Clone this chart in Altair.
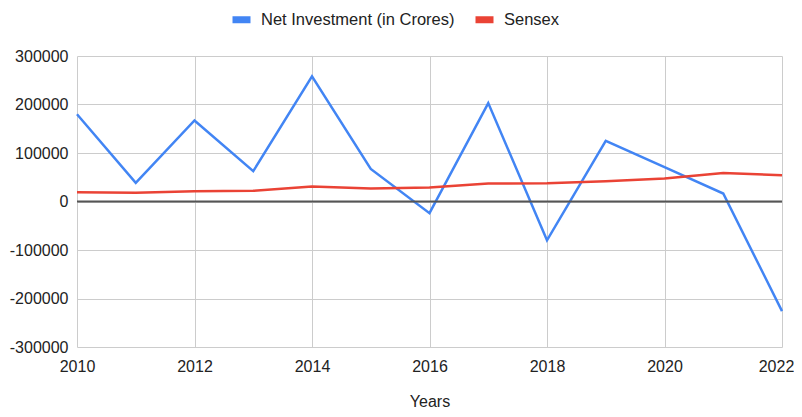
import altair as alt
import pandas as pd

years = list(range(2010, 2023))
net_investment = [180000, 38500, 167000, 62500, 258000, 67000, -24000, 203000, -80000, 125000, 71000, 16500, -226000]
sensex = [19200, 17900, 21000, 22000, 31000, 26800, 29000, 37000, 37800, 42000, 47500, 59000, 54300]
series_names = ["Net Investment (in Crores)", "Sensex"]
series_colors = ["#4285F4", "#EA4335"]
x_ticks = [2010, 2012, 2014, 2016, 2018, 2020, 2022]
y_ticks = [-300000, -200000, -100000, 0, 100000, 200000, 300000]

rows = []
for y, a, b in zip(years, net_investment, sensex):
    rows.append({"Year": y, "Series": series_names[0], "Value": a})
    rows.append({"Year": y, "Series": series_names[1], "Value": b})
df = pd.DataFrame(rows)

FONT = "Liberation Sans"

y_scale = alt.Scale(domain=[-300000, 300000], nice=False)
y_axis = alt.Axis(values=y_ticks, title=None, labelPadding=9, ticks=False,
                  labelExpr="datum.value < 0 ? '-' + format(-datum.value, 'd') : format(datum.value, 'd')",
                  domain=False, gridColor="#cccccc", labelFontSize=16, labelColor="#222222",
                  labelFont=FONT)

x_enc = alt.X(
    "Year:Q",
    scale=alt.Scale(domain=[2010, 2022], nice=False, zero=False),
    axis=alt.Axis(values=x_ticks, format="d", title="Years", labelPadding=11,
                  titlePadding=19, ticks=False, domain=False, gridColor="#cccccc",
                  labelFontSize=16, titleFontSize=16, titleFontWeight="normal",
                  labelColor="#222222", titleColor="#222222", labelFont=FONT, titleFont=FONT,
                  labelFlush=False,
                  labelOffset={"condition": {"test": "datum.value == 2022", "value": -6}, "value": 0}),
)

lines = alt.Chart(df).mark_line(strokeWidth=2.5).encode(
    x=x_enc,
    y=alt.Y("Value:Q", scale=y_scale, axis=y_axis),
    color=alt.Color(
        "Series:N",
        scale=alt.Scale(domain=series_names, range=series_colors),
        legend=alt.Legend(
            title=None, orient="none", direction="horizontal", legendX=152, legendY=-49,
            symbolType="stroke", symbolSize=324, symbolStrokeWidth=7, labelFontSize=16.5,
            labelFont=FONT, labelColor="#222222", labelOffset=7, columnPadding=6, padding=0,
            labelLimit=0,
        ),
    ),
)

zero = alt.Chart(alt.Data(values=[{"z": 0}])).mark_rule(color="#555555", strokeWidth=2).encode(
    y=alt.Y("z:Q", scale=y_scale, axis=y_axis)
)

chart = alt.layer(lines, zero).properties(
    width=705, height=291,
    autosize=alt.AutoSizeParams(type="none"),
    padding={"left": 69, "top": 48, "right": 12, "bottom": 62},
).configure_view(stroke=None)

chart.save("out.html", embed_options={"renderer": "svg", "actions": False})
